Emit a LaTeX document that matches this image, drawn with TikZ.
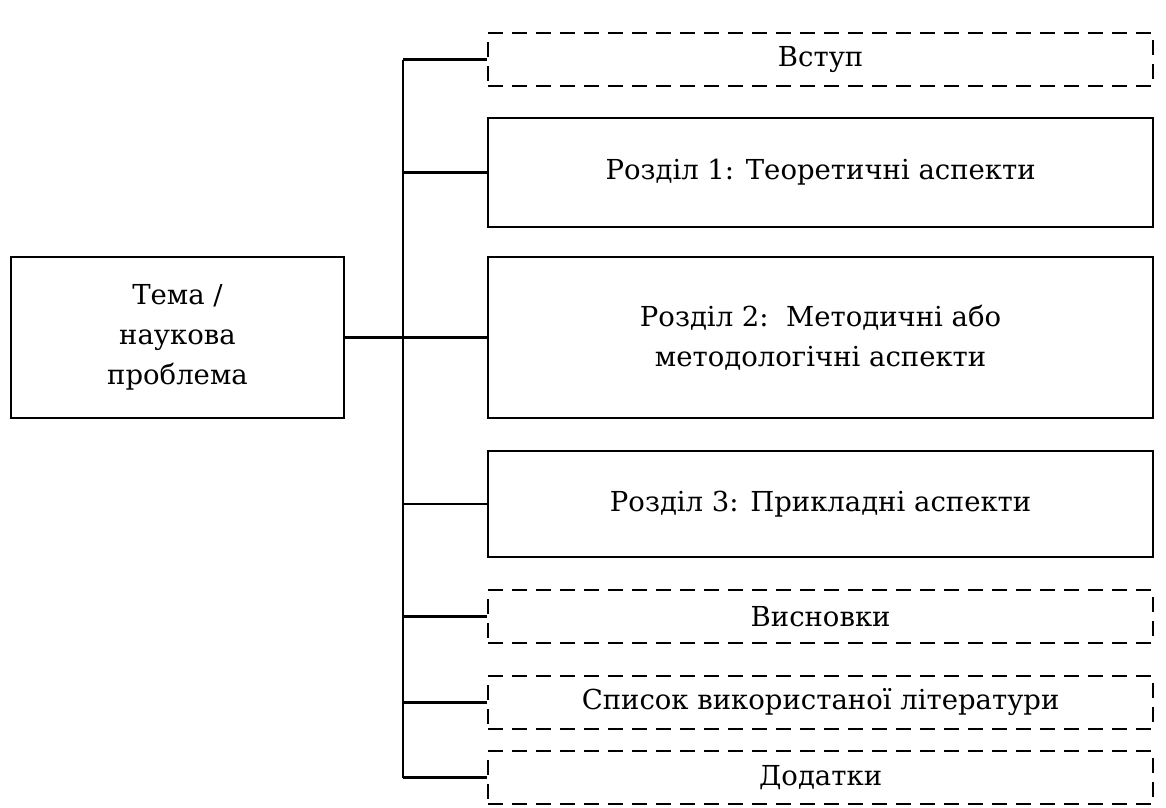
\documentclass[tikz,border=0pt]{standalone}
\usepackage{fontspec}
\setmainfont{DejaVu Serif}
\begin{document}
\begin{tikzpicture}[x=1pt,y=-1pt,
  box/.style={draw=black,line width=2.2pt,minimum width=665pt,anchor=west,inner sep=0pt,font=\fontsize{27.5}{40}\selectfont,align=center},
  dbox/.style={box,dash pattern=on 15pt off 9pt},
  conn/.style={line width=2.2pt,black}]
\useasboundingbox (0,0) rectangle (1166,807);
\node[draw=black,line width=2.2pt,minimum width=333pt,minimum height=161pt,inner sep=0pt,font=\fontsize{27.5}{40}\selectfont,align=center] (topic) at (177.5,337.5) {Тема /\\наукова\\проблема};
\node[dbox,minimum height=53pt] (b0) at (487,59.5) {Вступ};
\node[box,minimum height=109pt] (b1) at (487,172.5) {Розділ 1: Теоретичні аспекти};
\node[box,minimum height=161pt] (b2) at (487,337.5) {Розділ 2:\ \ Методичні або\\методологічні аспекти};
\node[box,minimum height=106pt] (b3) at (487,504) {Розділ 3: Прикладні аспекти};
\node[dbox,minimum height=53pt] (b4) at (487,616.5) {Висновки};
\node[dbox,minimum height=53pt] (b5) at (487,702.5) {Список використаної літератури};
\node[dbox,minimum height=53pt] (b6) at (487,777.5) {Додатки};
\coordinate (top) at (403,59.5);
\coordinate (bot) at (403,777.5);
\draw[conn] (top) -- (bot);
\draw[conn] (topic.east) -- (b2.west);
\foreach \n in {b0,b1,b3,b4,b5,b6}{
  \draw[conn] (\n.west) -- (\n.west -| top);
}
\end{tikzpicture}
\end{document}
